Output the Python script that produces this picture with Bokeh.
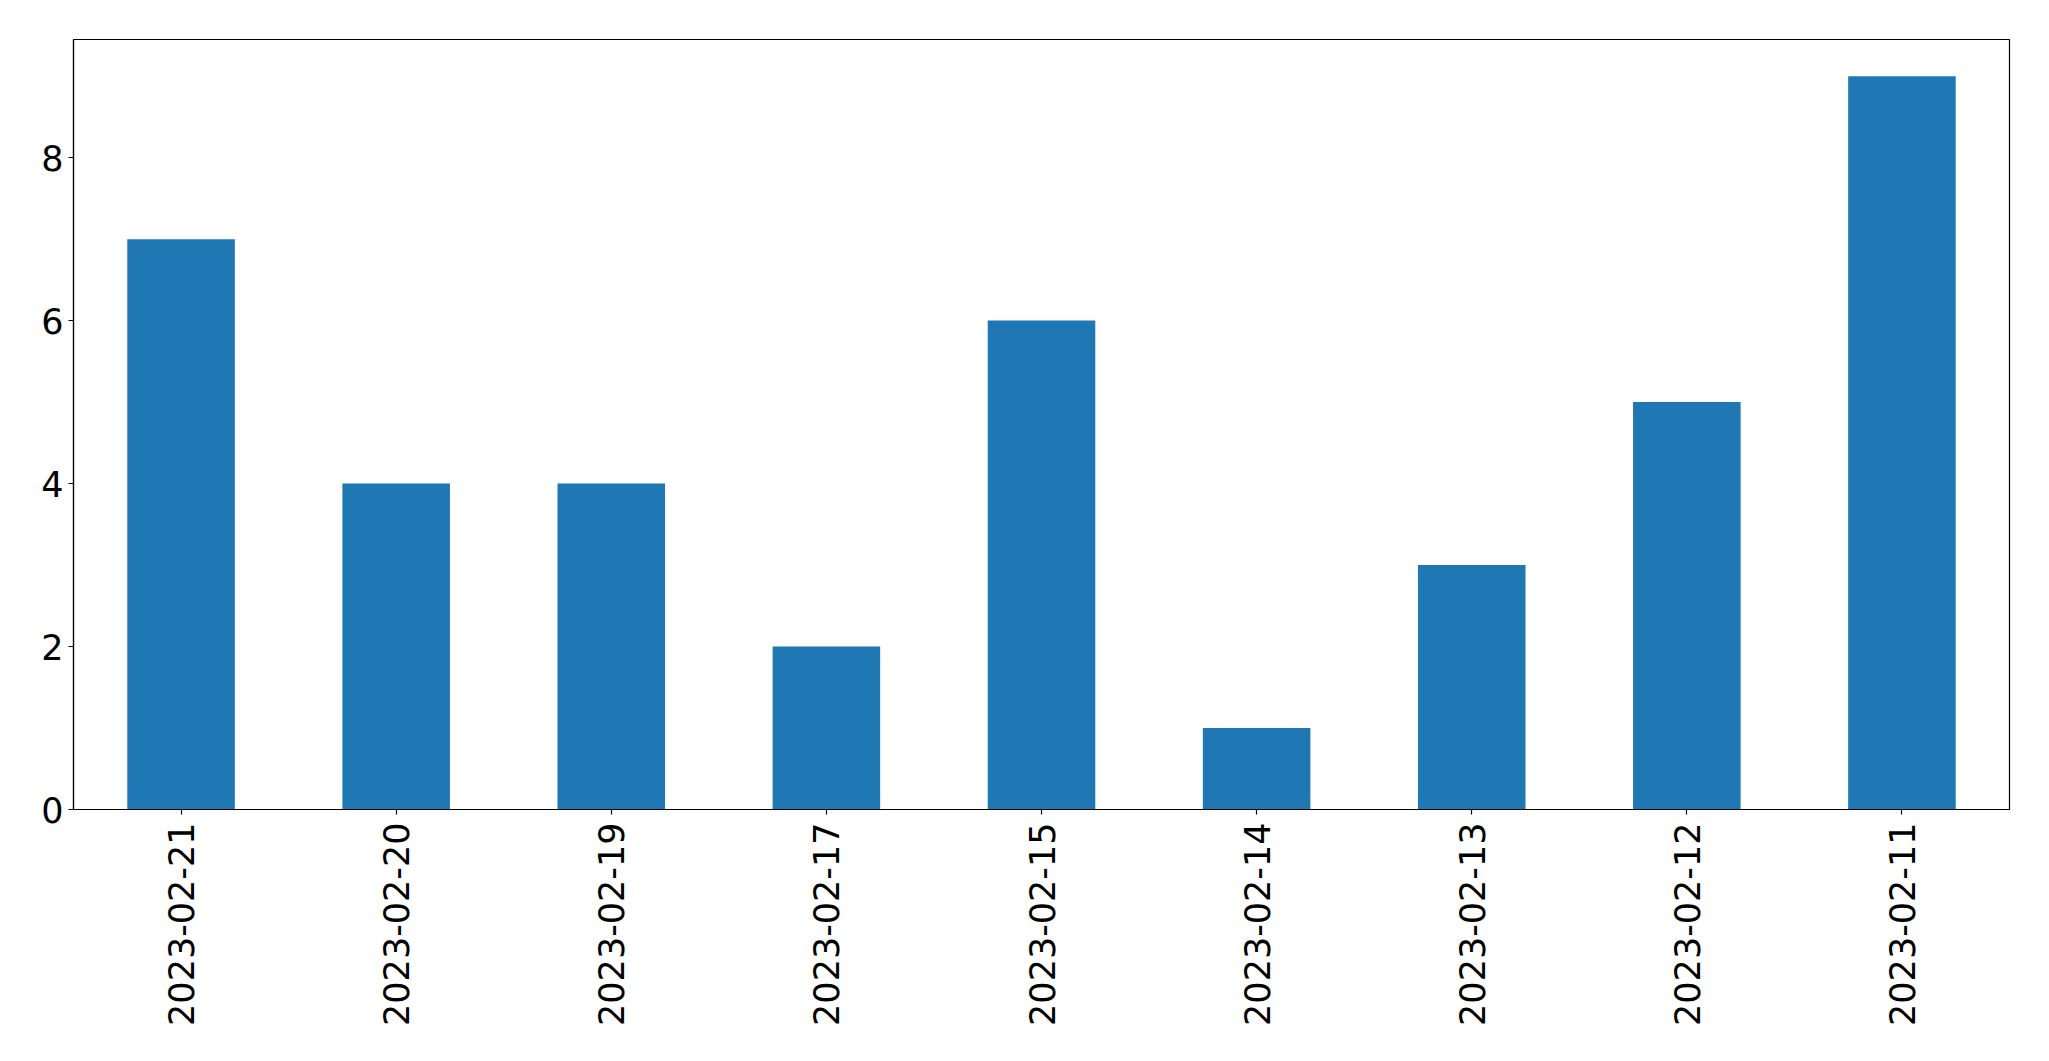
import math
from bokeh.plotting import figure
from bokeh.models import FactorRange, Range1d, FixedTicker, ColumnDataSource
from bokeh.embed import file_html
from bokeh.resources import INLINE

dates = ["2023-02-21", "2023-02-20", "2023-02-19", "2023-02-17", "2023-02-15",
         "2023-02-14", "2023-02-13", "2023-02-12", "2023-02-11"]
counts = [7, 4, 4, 2, 6, 1, 3, 5, 9]
y_ticks = [0, 2, 4, 6, 8]

src = ColumnDataSource(dict(x=dates, top=counts))

p = figure(x_range=FactorRange(factors=dates, range_padding=0),
           y_range=Range1d(0, 9.45),
           frame_width=1936, frame_height=770,
           min_border_left=73, min_border_top=39, min_border_right=30, min_border_bottom=215,
           output_backend="svg", toolbar_location=None)

p.vbar(x="x", top="top", width=0.5, source=src, color="#1f77b4", line_color=None)

p.xgrid.visible = False
p.ygrid.visible = False
p.outline_line_color = "black"
p.outline_line_width = 1.2
p.outline_line_alpha = 1
p.background_fill_color = "white"
p.border_fill_color = "white"

font = "DejaVu Sans"
for ax in (p.xaxis[0], p.yaxis[0]):
    ax.axis_line_color = "black"
    ax.axis_line_width = 1.2
    ax.major_tick_line_color = "black"
    ax.major_tick_line_width = 1.2
    ax.major_tick_out = 5
    ax.major_tick_in = 0
    ax.minor_tick_line_color = None
    ax.major_label_text_font = font
    ax.major_label_text_font_size = "35px"
    ax.major_label_text_color = "black"

p.yaxis[0].ticker = FixedTicker(ticks=y_ticks)
p.yaxis[0].major_label_standoff = 5
p.xaxis[0].major_label_orientation = math.pi / 2
p.xaxis[0].major_label_standoff = 8
p.xaxis[0].group_text_font_size = "0px"

open("out.html", "w").write(file_html(p, INLINE))
